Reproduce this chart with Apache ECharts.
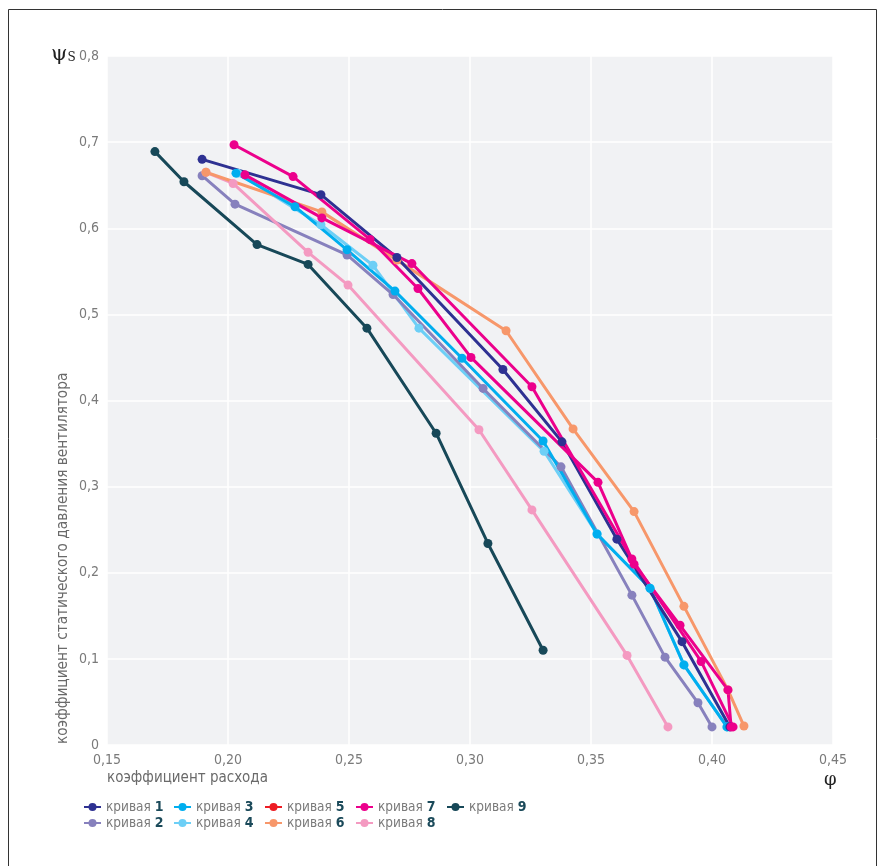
<!DOCTYPE html>
<html>
<head>
<meta charset="utf-8">
<script src="https://cdn.jsdelivr.net/npm/echarts@6/dist/echarts.min.js"></script>
<style>
  html, body { margin: 0; padding: 0; background: #fff; }
  #main { width: 881px; height: 866px; }
</style>
</head>
<body>
<div id="main"></div>
<script>
// расход (phi) и давление (psi) по кривым
var phi1 = [0.1893, 0.2384, 0.2698, 0.3136, 0.3380, 0.3607, 0.3876, 0.4074]
var psi1 = [0.680, 0.639, 0.566, 0.436, 0.352, 0.239, 0.120, 0.021]
var phi2 = [0.1893, 0.2029, 0.2492, 0.2682, 0.3054, 0.3376, 0.3669, 0.3806, 0.3942, 0.4000]
var psi2 = [0.661, 0.628, 0.569, 0.523, 0.414, 0.323, 0.174, 0.102, 0.049, 0.021]
var phi3 = [0.2033, 0.2277, 0.2492, 0.2690, 0.2967, 0.3302, 0.3525, 0.3744, 0.3884, 0.4062]
var psi3 = [0.664, 0.625, 0.575, 0.527, 0.449, 0.353, 0.245, 0.182, 0.093, 0.021]
var phi4 = [0.2041, 0.2384, 0.2599, 0.2789, 0.3306, 0.3525, 0.3744, 0.3884, 0.4062]
var psi4 = [0.664, 0.604, 0.557, 0.484, 0.341, 0.245, 0.182, 0.093, 0.021]
var phi5 = [0.2070, 0.2388, 0.2760, 0.3256, 0.3669, 0.3955, 0.4087]
var psi5 = [0.662, 0.612, 0.559, 0.416, 0.216, 0.097, 0.021]
var phi6 = [0.1909, 0.2388, 0.2698, 0.3149, 0.3426, 0.3678, 0.3884, 0.4066, 0.4132]
var psi6 = [0.665, 0.619, 0.563, 0.481, 0.367, 0.271, 0.161, 0.064, 0.022]
var phi7 = [0.2025, 0.2269, 0.2587, 0.2785, 0.3004, 0.3529, 0.3678, 0.3868, 0.4066, 0.4079]
var psi7 = [0.697, 0.660, 0.587, 0.530, 0.450, 0.305, 0.210, 0.139, 0.064, 0.021]
var phi8 = [0.1909, 0.2021, 0.2331, 0.2496, 0.3037, 0.3256, 0.3649, 0.3818]
var psi8 = [0.665, 0.652, 0.572, 0.534, 0.366, 0.273, 0.104, 0.021]
var phi9 = [0.1698, 0.1818, 0.2120, 0.2331, 0.2574, 0.2860, 0.3074, 0.3302]
var psi9 = [0.689, 0.654, 0.581, 0.558, 0.484, 0.362, 0.234, 0.110]

var names = ['кривая 1', 'кривая 2', 'кривая 3', 'кривая 4', 'кривая 5', 'кривая 6', 'кривая 7', 'кривая 8', 'кривая 9']
var xTicks = ['0,15', '0,20', '0,25', '0,30', '0,35', '0,40', '0,45']
var yTicks = ['0', '0,1', '0,2', '0,3', '0,4', '0,5', '0,6', '0,7', '0,8']

var colors = ['#2e3192', '#8781bd', '#00aeef', '#6dcff6', '#ec008c', '#f7976a', '#ec008c', '#f49ac1', '#174858']
var legendColors = ['#2e3192', '#8781bd', '#00aeef', '#6dcff6', '#ed1c24', '#f7976a', '#ec008c', '#f49ac1', '#174858']
var allPhi = [phi1, phi2, phi3, phi4, phi5, phi6, phi7, phi8, phi9]
var allPsi = [psi1, psi2, psi3, psi4, psi5, psi6, psi7, psi8, psi9]
// порядок отрисовки: 4 под 3
var drawOrder = [3, 1, 7, 5, 2, 0, 4, 6, 8]

var FONT = '"DejaVu Sans Condensed", "Liberation Sans Narrow", sans-serif'

var seriesData = drawOrder.map(function (i) {
  return {
    name: names[i],
    type: 'line',
    data: allPhi[i].map(function (v, k) { return [v, allPsi[i][k]] }),
    symbol: 'circle',
    symbolSize: 9,
    color: colors[i],
    lineStyle: { width: 3 },
    emphasis: { disabled: true }
  }
})

var legendCols = [[0, 1], [2, 3], [4, 5], [6, 7], [8]]
var legendLeft = [78, 168, 259, 350, 441]
var legends = legendCols.map(function (col, c) {
  return {
    orient: 'vertical',
    left: legendLeft[c],
    top: 795,
    itemWidth: 17,
    itemHeight: 10,
    itemGap: 2,
    selectedMode: false,
    data: col.map(function (i) {
      return { name: names[i], itemStyle: { color: legendColors[i] }, lineStyle: { color: legendColors[i] } }
    }),
    formatter: function (name) {
      var parts = name.split(' ')
      return '{t|' + parts[0] + ' }{n|' + parts[1] + '}'
    },
    textStyle: {
      rich: {
        t: { fontFamily: FONT, fontSize: 13.5, color: '#7a7a7a', lineHeight: 14 },
        n: { fontFamily: FONT, fontSize: 14, fontWeight: 'bold', color: '#1b4a5a', lineHeight: 14 }
      }
    }
  }
})

var myChart = echarts.init(document.getElementById('main'), null, { renderer: 'canvas' })
myChart.setOption({
  animation: false,
  backgroundColor: '#fff',
  grid: {
    left: 107,
    right: 48,
    top: 56,
    bottom: 121,
    show: true,
    backgroundColor: '#f1f2f4',
    borderWidth: 0
  },
  legend: legends,
  xAxis: {
    type: 'value',
    min: 0.15,
    max: 0.45,
    interval: 0.05,
    axisLine: { show: false },
    axisTick: { show: false },
    axisLabel: {
      fontFamily: FONT,
      fontSize: 14,
      color: '#7a7a7a',
      margin: 8,
      formatter: function (v) { return xTicks[Math.round((v - 0.15) / 0.05)] }
    },
    splitLine: { show: true, lineStyle: { color: '#fff', width: 1.5 } }
  },
  yAxis: {
    type: 'value',
    min: 0,
    max: 0.8,
    interval: 0.1,
    axisLine: { show: false },
    axisTick: { show: false },
    axisLabel: {
      fontFamily: FONT,
      fontSize: 14,
      color: '#7a7a7a',
      margin: 8,
      formatter: function (v) { return yTicks[Math.round(v / 0.1)] }
    },
    splitLine: { show: true, lineStyle: { color: '#fff', width: 1.5 } }
  },
  graphic: [
    {
      type: 'rect',
      shape: { x: 8.5, y: 9.5, width: 868, height: 880 },
      style: { fill: 'none', stroke: '#333', lineWidth: 1 },
      silent: true
    },
    {
      type: 'text',
      left: 51,
      top: 44,
      style: {
        text: '{p|ψ}{s|S}',
        rich: {
          p: { fontFamily: 'DejaVu Serif, serif', fontSize: 21, fill: '#222' },
          s: { fontFamily: 'DejaVu Serif, serif', fontSize: 12, fill: '#222', padding: [7, 0, 0, 0] }
        }
      }
    },
    {
      type: 'text',
      left: 824,
      top: 771,
      style: { text: 'φ', fontFamily: 'DejaVu Serif, serif', fontSize: 18, fill: '#222' }
    },
    {
      type: 'text',
      left: 107,
      top: 771,
      style: { text: 'коэффициент расхода', fontFamily: FONT, fontSize: 15, fill: '#6a6a6a' }
    },
    {
      type: 'text',
      x: 56,
      y: 744,
      rotation: Math.PI / 2,
      style: {
        text: 'коэффициент статического давления вентилятора',
        fontFamily: FONT,
        fontSize: 15.2,
        fill: '#6a6a6a',
        align: 'left',
        verticalAlign: 'top'
      }
    }
  ],
  series: seriesData
})
</script>
</body>
</html>
